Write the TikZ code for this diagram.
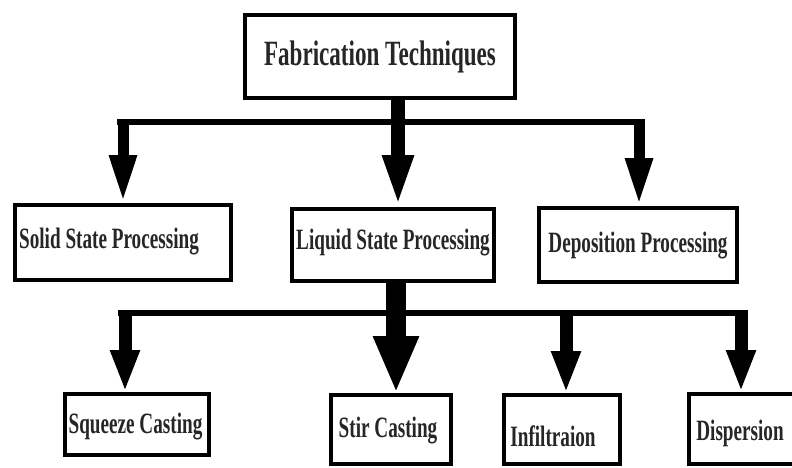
\documentclass[tikz,border=0pt]{standalone}
\usepackage{fontspec}
\usetikzlibrary{arrows.meta,calc}
\newfontfamily\condfont{Liberation Serif}[FakeStretch=0.65]
\tikzset{
  box/.style={draw=black, line width=4pt, rectangle, inner sep=0pt, fill=white},
  lbl/.style={font=\condfont\bfseries\fontsize{29.5}{30}\selectfont, text=black!85, inner sep=0pt},
  ttl/.style={font=\condfont\bfseries\fontsize{35.5}{36}\selectfont, text=black!85, inner sep=0pt},
  bus/.style={line width=6pt},
  arrA/.style={line width=11pt, -{Triangle[width=25pt,length=48pt]}},
  arrB/.style={line width=14pt, -{Triangle[width=28pt,length=52pt]}},
  arrC/.style={line width=20pt, -{Triangle[width=42pt,length=57pt]}},
  arrD/.style={line width=13pt, -{Triangle[width=27pt,length=42pt]}},
}
\begin{document}
\begin{tikzpicture}[x=1pt,y=-1pt]
\useasboundingbox[fill=white] (0,0) rectangle (792,468);
% boxes
\node[box, minimum width=270pt, minimum height=83pt] (top) at (380,56.5) {};
\node[ttl] (toptxt) at (380,57) {Fabrication Techniques};
\node[box, minimum width=216pt, minimum height=75pt] (solid) at (123,242.5) {};
\node[lbl] (solidtxt) at (109,242) {Solid State Processing};
\node[box, minimum width=202pt, minimum height=72pt] (liquid) at (393,245) {};
\node[lbl] (liquidtxt) at (393,243) {Liquid State Processing};
\node[box, minimum width=198pt, minimum height=74pt] (depo) at (638,245) {};
\node[lbl] (depotxt) at (638,246) {Deposition Processing};
\node[box, minimum width=144pt, minimum height=61pt] (squeeze) at (137,424.5) {};
\node[lbl] (squeezetxt) at (135.5,427) {Squeeze Casting};
\node[box, minimum width=120pt, minimum height=69pt] (stir) at (391,429.5) {};
\node[lbl] (stirtxt) at (388,431) {Stir Casting};
\node[box, minimum width=116pt, minimum height=69pt] (infil) at (562,429.5) {};
\node[lbl] (infiltxt) at (553,436) {Infiltraion};
\node[box, minimum width=109pt, minimum height=70pt] (disp) at (743.5,429) {};
\node[lbl] (disptxt) at (740,433) {Dispersion};
% bus coordinates
\coordinate (busL) at (117,122);
\coordinate (busR) at (645,122);
\coordinate (bus2L) at (118,313);
\coordinate (bus2R) at (747,313);
% top level connectors
\draw[bus] (busL) -- (busR);
\draw[arrA] (solid.north |- 0,119) -- (solid.north);
\draw[arrA] (639,119) -- (639,0 |- depo.north);
\draw[arrB] (398,0 |- top.south) -- (398,0 |- liquid.north);
% bottom level connectors
\draw[bus] (bus2L) -- (bus2R);
\draw[arrD] (125,310) -- (125,0 |- squeeze.north);
\draw[arrD] (566,310) -- (566,0 |- infil.north);
\draw[arrD] (741,310) -- (741,0 |- disp.north);
\draw[arrC] (396,0 |- liquid.south) -- (396,0 |- stir.north);
\end{tikzpicture}
\end{document}
